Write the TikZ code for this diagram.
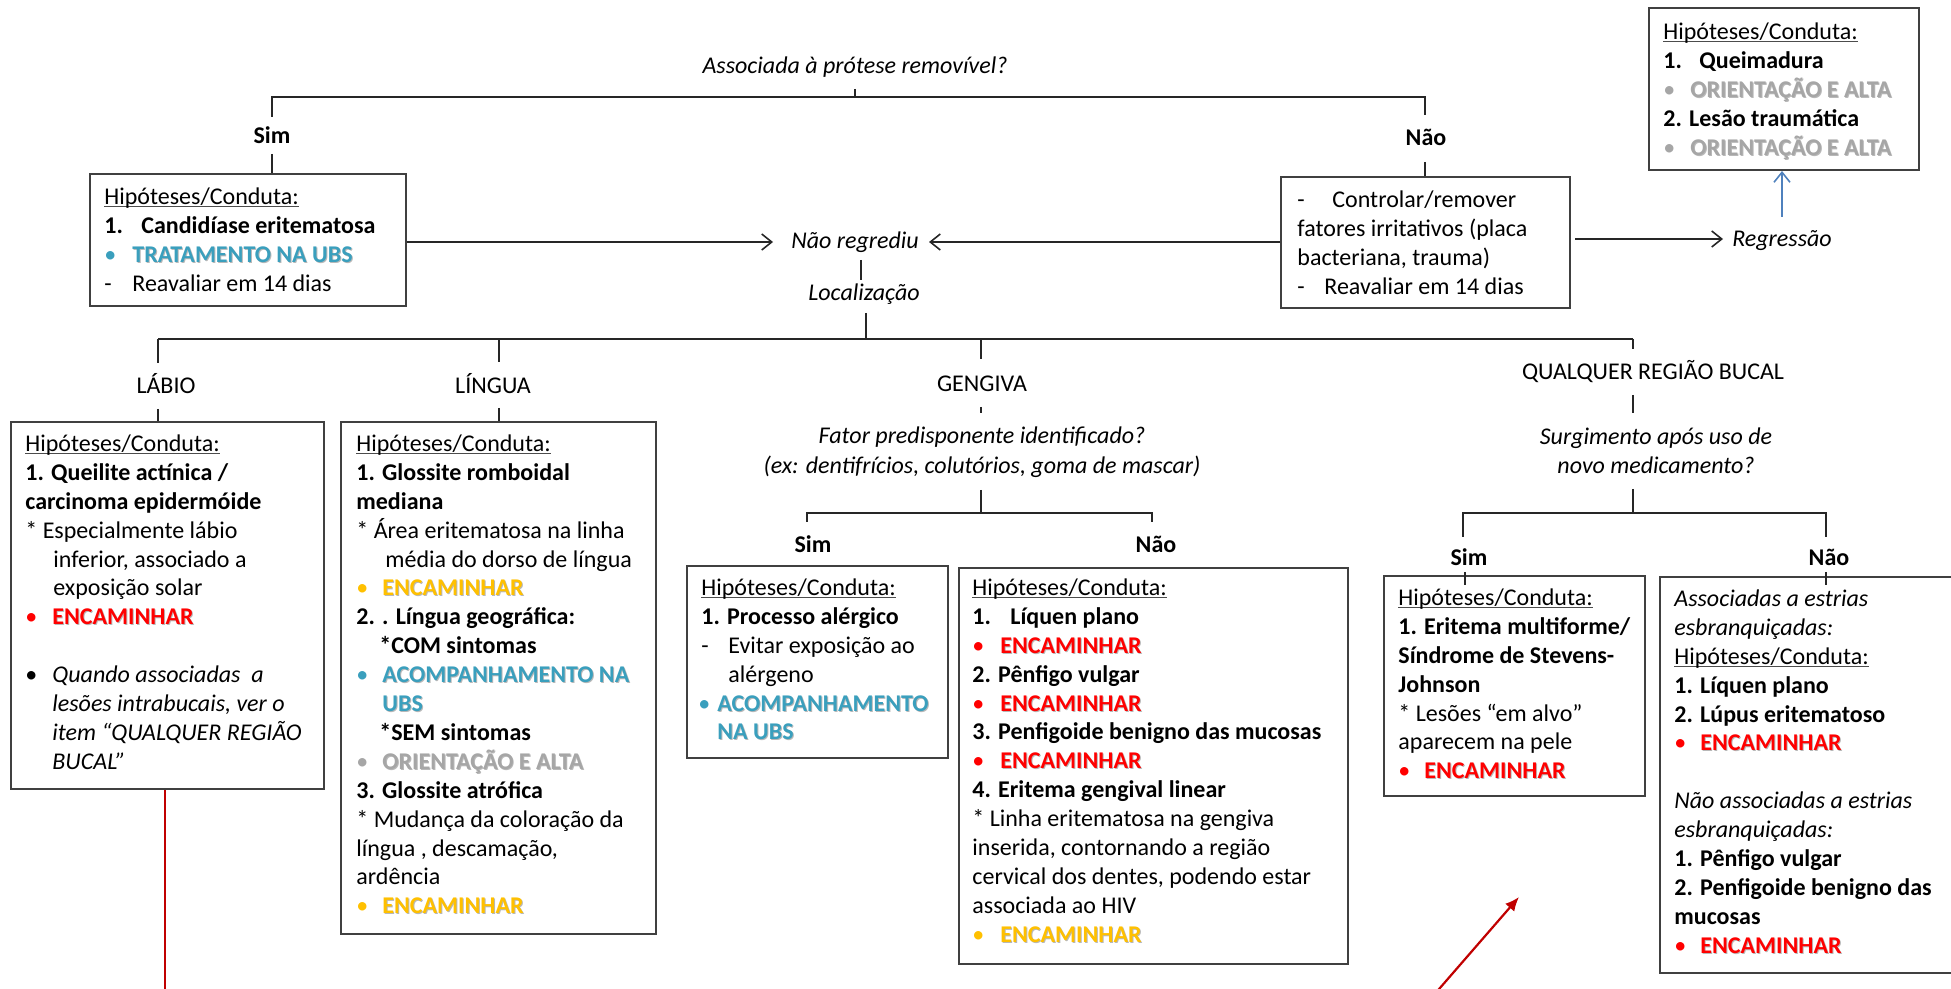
\documentclass[tikz,border=0pt]{standalone}
\usepackage{fontspec}
\setmainfont{Carlito}
\usetikzlibrary{arrows.meta}

\definecolor{framegray}{HTML}{404040}
\definecolor{ubsteal}{HTML}{3A9FBD}
\definecolor{alertred}{HTML}{FF0000}
\definecolor{warnyellow}{HTML}{FFC000}
\definecolor{infogray}{HTML}{A6A6A6}
\definecolor{linkblue}{HTML}{4F81BD}
\definecolor{markred}{HTML}{C00000}

\newsavebox\txtbox
% underlined heading used in every box
\newcommand\hdr{\sbox\txtbox{Hipóteses/Conduta:}\rlap{\color{black!70}\rule[-1.5pt]{\wd\txtbox}{0.6pt}}\usebox\txtbox}
% bold coloured text with a soft drop shadow
\newcommand\shad[2]{\rlap{\kern0.5pt\raisebox{-0.5pt}{\color{black!28}\bfseries #2}}{\color{#1}\bfseries #2}}
% bullet line: [tab width]{colour}{text}
\newcommand\bitem[3][13.5pt]{\makebox[#1][l]{\color{#2}•}\shad{#2}{#3}}

\begin{document}
\begin{tikzpicture}[x=0.5pt,y=-0.5pt,
  box/.style={draw=framegray, line width=1pt, inner sep=0pt, anchor=north west},
  txt/.style={inner sep=0pt, anchor=north west, align=left, font=\fontsize{12}{14.45}\selectfont},
  lbl/.style={inner sep=0pt, anchor=base, font=\fontsize{12}{14.45}\selectfont},
  conn/.style={draw=black!85, line width=0.8pt},
  arr/.style={draw=black!85, line width=0.8pt, -{Straight Barb[length=5pt,width=8pt]}},
  bluearr/.style={draw=linkblue, line width=0.8pt, -{Straight Barb[length=5pt,width=8pt]}},
  redline/.style={draw=markred, line width=1.1pt},
  redarr/.style={draw=markred, line width=1.1pt, -{Latex[length=7pt,width=6pt]}}]

\useasboundingbox (0,0) rectangle (1951,989);

% ---------- first question ----------
\node[lbl, font=\fontsize{12}{14.45}\selectfont\itshape] (q1) at (855,74) {Associada à prótese removível?};
\node[lbl, font=\fontsize{12}{14.45}\selectfont\bfseries] (sim1) at (272,144) {Sim};
\node[lbl, font=\fontsize{12}{14.45}\selectfont\bfseries] (nao1) at (1426,146) {Não};

\coordinate (t0) at (855,89);
\coordinate (tm) at (855,97);
\coordinate (tl) at (272,97);
\coordinate (tr) at (1425,97);
\coordinate (tld) at (272,117);
\coordinate (trd) at (1425,115);
\coordinate (sa) at (272,154);
\coordinate (na) at (1425,162);
\draw[conn] (t0) -- (tm);
\draw[conn] (tld) -- (tl) -- (tr) -- (trd);

% ---------- Sim: candidiase ----------
\node[box, minimum width=158pt, minimum height=66pt] (simbox) at (89,173) {};
\node[txt] (simtxt) at (104,183.8) {\strut\hdr\\
\textbf{\makebox[18.5pt][l]{1.}Candidíase eritematosa}\\
\bitem[14pt]{ubsteal}{TRATAMENTO NA UBS}\\
\makebox[14pt][l]{-}Reavaliar em 14 dias};
\draw[conn] (sa) -- (sa |- simbox.north);

% ---------- Não: remove irritating factors ----------
\node[box, minimum width=144.5pt, minimum height=65.5pt] (naobox) at (1280,176) {};
\node[txt] (naotxt) at (1297,186.8) {\strut\makebox[17.5pt][l]{-}Controlar/remover\\
fatores irritativos (placa\\
bacteriana, trauma)\\
\makebox[13.5pt][l]{-}Reavaliar em 14 dias};
\draw[conn] (na) -- (na |- naobox.north);

% ---------- regression branch ----------
\node[box, minimum width=135pt, minimum height=81pt] (hipbox) at (1648,7) {};
\node[txt] (hiptxt) at (1663,18.8) {\strut\hdr\\
\textbf{\makebox[18pt][l]{1.}Queimadura}\\
\bitem{infogray}{ORIENTAÇÃO E ALTA}\\
\textbf{2. Lesão traumática}\\
\bitem{infogray}{ORIENTAÇÃO E ALTA}};

\node[lbl, font=\fontsize{12}{14.45}\selectfont\itshape] (regr) at (1782,247) {Regressão};
\coordinate (rg0) at (1575,239);
\coordinate (rg1) at (1723,239);
\draw[arr] (rg0) -- (rg1);
\coordinate (bl0) at (1782,217);
\draw[bluearr] (bl0) -- (bl0 |- hipbox.south);

% ---------- not regressed ----------
\node[lbl, font=\fontsize{12}{14.45}\selectfont\itshape] (nreg) at (855,249) {Não regrediu};
\coordinate (nrl) at (773,242);
\coordinate (nrr) at (929,242);
\draw[arr] (simbox.east |- nrl) -- (nrl);
\draw[arr] (naobox.west |- nrr) -- (nrr);

\coordinate (nr1) at (861,260);
\coordinate (nr2) at (861,280);
\draw[conn] (nr1) -- (nr2);
\node[lbl, font=\fontsize{12}{14.45}\selectfont\itshape] (loc) at (864,301) {Localização};

% ---------- location bracket ----------
\coordinate (l0) at (866,313);
\coordinate (lm) at (866,339);
\coordinate (la) at (158,339);
\coordinate (lb) at (499,339);
\coordinate (lc) at (981,339);
\coordinate (ld) at (1633,339);
\draw[conn] (l0) -- (lm);
\draw[conn] (la) -- (ld);
\draw[conn] (la) -- (158,363);
\draw[conn] (lb) -- (499,362);
\draw[conn] (lc) -- (981,359);
\draw[conn] (ld) -- (1633,349);

\node[lbl] (labio) at (166,394) {LÁBIO};
\node[lbl] (lingua) at (493,394) {LÍNGUA};
\node[lbl] (gengiva) at (982,392) {GENGIVA};
\node[lbl] (qualquer) at (1653,380) {QUALQUER REGIÃO BUCAL};

% ---------- LÁBIO ----------
\node[box, minimum width=156.5pt, minimum height=183.5pt] (labiobox) at (10,421) {};
\node[txt] (labiotxt) at (25,430.8) {\strut\hdr\\
\textbf{1. Queilite actínica /}\\
\textbf{carcinoma epidermóide}\\
* Especialmente lábio\\
\hspace*{14pt}inferior, associado a\\
\hspace*{14pt}exposição solar\\
\bitem{alertred}{ENCAMINHAR}\\
\mbox{}\\
\makebox[13.5pt][l]{•}\textit{Quando associadas\ \ a}\\
\hspace*{13.5pt}\textit{lesões intrabucais, ver o}\\
\hspace*{13.5pt}\textit{item “QUALQUER REGIÃO}\\
\hspace*{13.5pt}\textit{BUCAL”}};
\coordinate (lab0) at (158,409);
\draw[conn] (lab0) -- (lab0 |- labiobox.north);

% ---------- LÍNGUA ----------
\node[box, minimum width=157.5pt, minimum height=256pt] (linguabox) at (340,421) {};
\node[txt] (linguatxt) at (356,430.8) {\strut\hdr\\
\textbf{1. Glossite romboidal}\\
\textbf{mediana}\\
* Área eritematosa na linha\\
\hspace*{14.5pt}média do dorso de língua\\
\bitem[13pt]{warnyellow}{ENCAMINHAR}\\
\textbf{2. . Língua geográfica:}\\
\hspace*{11.5pt}\textbf{*COM sintomas}\\
\bitem[13pt]{ubsteal}{ACOMPANHAMENTO NA}\\
\hspace*{13pt}\shad{ubsteal}{UBS}\\
\hspace*{11.5pt}\textbf{*SEM sintomas}\\
\bitem[13pt]{infogray}{ORIENTAÇÃO E ALTA}\\
\textbf{3. Glossite atrófica}\\
* Mudança da coloração da\\
língua , descamação,\\
ardência\\
\bitem[13pt]{warnyellow}{ENCAMINHAR}};
\coordinate (lin0) at (499,408);
\draw[conn] (lin0) -- (lin0 |- linguabox.north);

% ---------- GENGIVA ----------
\coordinate (gg0) at (981,407);
\coordinate (gg1) at (981,413);
\draw[conn] (gg0) -- (gg1);
\node[lbl, font=\fontsize{12}{14.45}\selectfont\itshape] (fator) at (982,444) {Fator predisponente identificado?};
\node[lbl, font=\fontsize{12}{14.45}\selectfont\itshape] (fatorex) at (982,474) {(ex: dentifrícios, colutórios, goma de mascar)};
\coordinate (gb0) at (981,490);
\coordinate (gbm) at (981,513);
\coordinate (gbl) at (807,513);
\coordinate (gbr) at (1152,513);
\draw[conn] (gb0) -- (gbm);
\draw[conn] (807,522) -- (gbl) -- (gbr) -- (1152,522);
\node[lbl, font=\fontsize{12}{14.45}\selectfont\bfseries] (gsim) at (813,553) {Sim};
\node[lbl, font=\fontsize{12}{14.45}\selectfont\bfseries] (gnao) at (1156,553) {Não};

\node[box, minimum width=130.5pt, minimum height=96pt] (gsimbox) at (686,565) {};
\node[txt] (gsimtxt) at (701,574.8) {\strut\hdr\\
\textbf{1. Processo alérgico}\\
\makebox[13.5pt][l]{-}Evitar exposição ao\\
\hspace*{13.5pt}alérgeno\\
\makebox[8pt][l]{\hspace*{-1.5pt}\color{ubsteal}•}\shad{ubsteal}{ACOMPANHAMENTO}\\
\hspace*{8pt}\shad{ubsteal}{NA UBS}};

\node[box, minimum width=194.5pt, minimum height=198pt] (gnaobox) at (958,567) {};
\node[txt] (gnaotxt) at (972,574.8) {\strut\hdr\\
\textbf{\makebox[19pt][l]{1.}Líquen plano}\\
\bitem[14pt]{alertred}{ENCAMINHAR}\\
\textbf{2. Pênfigo vulgar}\\
\bitem[14pt]{alertred}{ENCAMINHAR}\\
\textbf{3. Penfigoide benigno das mucosas}\\
\bitem[14pt]{alertred}{ENCAMINHAR}\\
\textbf{4. Eritema gengival linear}\\
* Linha eritematosa na gengiva\\
inserida, contornando a região\\
cervical dos dentes, podendo estar\\
associada ao HIV\\
\bitem[14pt]{warnyellow}{ENCAMINHAR}};

% ---------- QUALQUER REGIÃO BUCAL ----------
\coordinate (qq0) at (1633,395);
\coordinate (qq1) at (1633,413);
\draw[conn] (qq0) -- (qq1);
\node[lbl, font=\fontsize{12}{14.45}\selectfont\itshape] (surg) at (1656,445) {Surgimento após uso de};
\node[lbl, font=\fontsize{12}{14.45}\selectfont\itshape] (surgb) at (1656,474) {novo medicamento?};
\coordinate (qb0) at (1633,489);
\coordinate (qbm) at (1633,513);
\coordinate (qbl) at (1463,513);
\coordinate (qbr) at (1826,513);
\draw[conn] (qb0) -- (qbm);
\draw[conn] (1463,537) -- (qbl) -- (qbr) -- (1826,537);
\node[lbl, font=\fontsize{12}{14.45}\selectfont\bfseries] (qsim) at (1469,566) {Sim};
\node[lbl, font=\fontsize{12}{14.45}\selectfont\bfseries] (qnao) at (1829,566) {Não};

\node[box, minimum width=130.5pt, minimum height=110pt] (qsimbox) at (1383,575) {};
\node[txt] (qsimtxt) at (1398,584.8) {\strut\hdr\\
\textbf{1. Eritema multiforme/}\\
\textbf{Síndrome de Stevens-}\\
\textbf{Johnson}\\
* Lesões “em alvo”\\
aparecem na pele\\
\bitem[13pt]{alertred}{ENCAMINHAR}};

\node[box, minimum width=160pt, minimum height=198pt] (qnaobox) at (1659,576) {};
\node[txt] (qnaotxt) at (1674,585.8) {\strut\textit{Associadas a estrias}\\
\textit{esbranquiçadas:}\\
\hdr\\
\textbf{1. Líquen plano}\\
\textbf{2. Lúpus eritematoso}\\
\bitem[13pt]{alertred}{ENCAMINHAR}\\
\mbox{}\\
\textit{Não associadas a estrias}\\
\textit{esbranquiçadas:}\\
\textbf{1. Pênfigo vulgar}\\
\textbf{2. Penfigoide benigno das}\\
\textbf{mucosas}\\
\bitem[13pt]{alertred}{ENCAMINHAR}};

\coordinate (qs0) at (1465,572);
\coordinate (qs1) at (1465,585);
\coordinate (qn0) at (1826,572);
\coordinate (qn1) at (1826,585);
\draw[conn] (qs0) -- (qs1);
\draw[conn] (qn0) -- (qn1);

% ---------- red cross-reference marks ----------
\coordinate (rl1) at (165,996);
\draw[redline] (rl1 |- labiobox.south) -- (rl1);
\coordinate (ra0) at (1433,996);
\coordinate (ra1) at (1519,897);
\draw[redarr] (ra0) -- (ra1);

\end{tikzpicture}
\end{document}
